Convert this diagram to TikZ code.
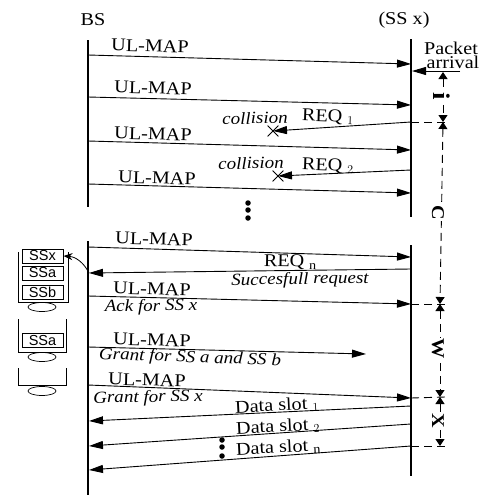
\documentclass[tikz,border=0pt]{standalone}
\usepackage{fontspec}
\setmainfont{Liberation Serif}[FakeStretch=1.12]
\setsansfont{Liberation Sans}
\usepackage{tikz}
\usetikzlibrary{arrows.meta}
\usetikzlibrary{shapes.misc}
\usetikzlibrary{shapes.geometric}

\tikzset{
	txt/.style={inner sep=0pt,font=\fontsize{18}{18}\selectfont},
	note/.style={inner sep=0pt,font=\fontsize{17}{17}\selectfont\itshape},
	dim/.style={inner sep=1pt,fill=white,rotate=-90,font=\fontsize{18}{18}\selectfont\bfseries},
	ss/.style={draw,line width=0.9pt,minimum width=41pt,minimum height=14pt,inner sep=0pt,font=\fontsize{14.5}{15}\selectfont\sffamily},
	hole/.style={draw,ellipse,line width=0.7pt,minimum width=28pt,minimum height=9pt,inner sep=0pt},
	blob/.style={circle,fill=black,inner sep=0pt,minimum size=5.5pt},
	msg/.style={line width=0.9pt,-{Triangle[length=14pt,width=8pt]}},
	span/.style={line width=0.9pt,dash pattern=on 8pt off 5pt,{Triangle[length=7pt,width=9pt]}-{Triangle[length=7pt,width=9pt]}},
	tick/.style={line width=0.9pt,dash pattern=on 8pt off 5pt},
	life/.style={line width=1.5pt}
}

\begin{document}
\begin{tikzpicture}[x=1pt,y=-1pt]
		\useasboundingbox (0,0) rectangle (486,498);

		% life lines
		\draw [life] (88,40) -- (88,207);
		\draw [life] (88,241) -- (88,495);
		\draw [life] (411,39) -- (411,217);
		\draw [life] (411,245) -- (411,476);

		\node (bs) at (93,20) [txt] {BS};
		\node (ssx) at (404,20) [txt] {(SS x)};

		% ends on the BS side
		\coordinate (a1) at (88,55);
		\coordinate (a2) at (88,97);
		\coordinate (a3) at (88,141);
		\coordinate (a4) at (88,184);
		\coordinate (a5) at (88,247);
		\coordinate (a6) at (89,273);
		\coordinate (a7) at (88,296);
		\coordinate (a8) at (88,347);
		\coordinate (a9) at (88,385);
		\coordinate (a10) at (89,421);
		\coordinate (a11) at (89,446);
		\coordinate (a12) at (89,470);
		% ends on the SS side
		\coordinate (b1) at (411,64);
		\coordinate (b2) at (411,105);
		\coordinate (r1) at (411,122);
		\coordinate (b3) at (411,150);
		\coordinate (r2) at (411,170);
		\coordinate (b4) at (411,193);
		\coordinate (b5) at (411,257);
		\coordinate (b6) at (411,269);
		\coordinate (b7) at (411,304);
		\coordinate (b8) at (366,354);
		\coordinate (b9) at (411,398);
		\coordinate (b10) at (411,406);
		\coordinate (b11) at (411,424);
		\coordinate (b12) at (411,446);
		\coordinate (p1) at (460,71);
		\coordinate (p2) at (412,71);
		% ends on the measure line
		\coordinate (d1) at (443,72);
		\coordinate (d2) at (443,122);
		\coordinate (d3) at (440,304);
		\coordinate (d4) at (440,397);
		\coordinate (d5) at (440,446);
		\coordinate (e2) at (445,122);
		\coordinate (e3) at (445,304);
		\coordinate (e4) at (445,397);
		\coordinate (e5) at (445,446);

		\node (x1) at (273,131) [cross out,draw,line width=0.8pt,minimum size=10pt,inner sep=0pt] {};
		\node (x2) at (278,176) [cross out,draw,line width=0.8pt,minimum size=10pt,inner sep=0pt] {};

		\path
		(a1) edge [msg] (b1)
		(a2) edge [msg] (b2)
		(a3) edge [msg] (b3)
		(a4) edge [msg] (b4)
		(a5) edge [msg] (b5)
		(b6) edge [msg] (a6)
		(a7) edge [msg] (b7)
		(a8) edge [msg] (b8)
		(a9) edge [msg] (b9)
		(b10) edge [msg] (a10)
		(b11) edge [msg] (a11)
		(b12) edge [msg] (a12)
		(p1) edge [msg] (p2)
		(r1) edge [msg,shorten >=0pt] (x1.center)
		(r2) edge [msg] (x2.center)
		(r1) edge [tick] (e2)
		(b7) edge [tick] (e3)
		(b9) edge [tick] (e4)
		(b12) edge [tick] (e5)
		(d1) edge [span] (d2)
		(d2) edge [span] (d3)
		(d3) edge [span] (d4)
		(d4) edge [span] (d5);

		\node (ui) at (442,96) [dim,font=\fontsize{24}{24}\selectfont\bfseries] {i};
		\node (uc) at (438,213) [dim] {C};
		\node (uw) at (438,349) [dim] {W};
		\node (ux) at (438,421) [dim] {X};
		\node (pk) at (451,48) [txt] {Packet};
		\node (ar) at (453,62) [txt] {arrival};

		% message labels
		\node (m1) at (150,46) [txt,rotate=-1.5] {UL-MAP};
		\node (m2) at (153,88) [txt,rotate=-1.5] {UL-MAP};
		\node (m3) at (153,134) [txt,rotate=-1.5] {UL-MAP};
		\node (m4) at (157,178) [txt,rotate=-1.5] {UL-MAP};
		\node (m5) at (154,239) [txt,rotate=-1.5] {UL-MAP};
		\node (m6) at (152,289) [txt,rotate=-1.5] {UL-MAP};
		\node (m7) at (152,340) [txt,rotate=-1.5] {UL-MAP};
		\node (m8) at (147,380) [txt,rotate=-1.5] {UL-MAP};
		\node (c1) at (255,118) [note,rotate=1.5] {collision};
		\node (c2) at (251,163) [note,rotate=1.5] {collision};
		\node (q1) at (328,117) [txt,rotate=-2] {REQ $_{\fontsize{10}{10}\selectfont 1}$};
		\node (q2) at (328,166) [txt,rotate=-2] {REQ $_{\fontsize{10}{10}\selectfont 2}$};
		\node (qn) at (290,262) [txt,rotate=-1] {REQ $_{\fontsize{10}{10}\selectfont\mathrm{n}}$};
		\node (n1) at (300,280) [note,rotate=1] {Succesfull request};
		\node (n2) at (151,307) [note,rotate=1] {Ack for SS x};
		\node (n3) at (190,358) [note,rotate=-2] {Grant for SS a and SS b};
		\node (n4) at (148,398) [note,rotate=1] {Grant for SS x};
		\node (s1) at (277,406) [txt,rotate=3] {Data slot $_{\fontsize{10}{10}\selectfont 1}$};
		\node (s2) at (278,427) [txt,rotate=3] {Data slot $_{\fontsize{10}{10}\selectfont 2}$};
		\node (s3) at (278,448) [txt,rotate=3] {Data slot $_{\fontsize{10}{10}\selectfont\mathrm{n}}$};

		\node (u1) at (248,203) [blob] {};
		\node (u2) at (248,210) [blob] {};
		\node (u3) at (248,218) [blob] {};
		\node (v1) at (222,440) [blob] {};
		\node (v2) at (222,447) [blob] {};
		\node (v3) at (222,456) [blob] {};

		% queues
		\draw [line width=0.8pt] (18,252) -- (18,302) -- (68,302) -- (68,252);
		\draw [line width=0.8pt] (18,319) -- (18,352) -- (66,352) -- (66,319);
		\draw [line width=0.8pt] (18,368) -- (18,385) -- (66,385) -- (66,368);
		\node (q1x) at (42.5,256) [ss] {SSx};
		\node (q1a) at (42.5,273) [ss] {SSa};
		\node (q1b) at (42.5,292) [ss] {SSb};
		\node (q2a) at (42.5,340.5) [ss] {SSa};
		\node (h1) at (42,307) [hole] {};
		\node (h2) at (42,357) [hole] {};
		\node (h3) at (42,391) [hole] {};
		\path (a6) edge [line width=0.8pt,-{Stealth[length=9pt,width=7pt]},bend right=30] (q1x.east);
	\end{tikzpicture}
\end{document}
